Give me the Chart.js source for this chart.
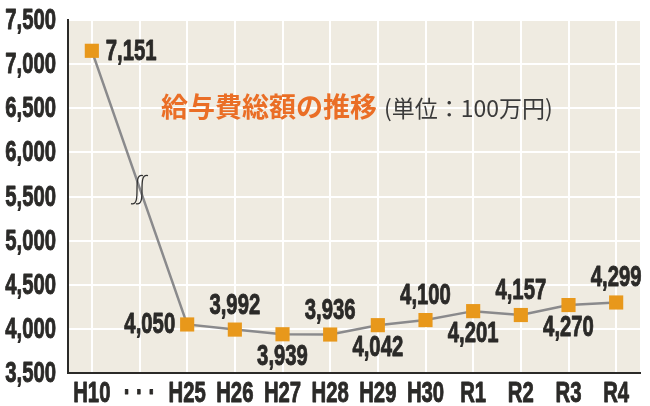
<!DOCTYPE html>
<html>
<head>
<meta charset="utf-8">
<script src="https://cdn.jsdelivr.net/npm/chart.js@4.4.0/dist/chart.umd.min.js"></script>
<style>
  html, body { margin: 0; padding: 0; background: #fff; }
</style>
</head>
<body>
<canvas id="chart" width="650" height="406"></canvas>
<script>
// chart data
const categories = ['H10', '· · ·', 'H25', 'H26', 'H27', 'H28', 'H29', 'H30', 'R1', 'R2', 'R3', 'R4'];
const totals = [7151, null, 4050, 3992, 3939, 3936, 4042, 4100, 4201, 4157, 4270, 4299];
// where each value label sits relative to its point
const labelSides = ['right', null, 'left', 'above', 'below', 'above', 'below', 'above', 'below', 'above', 'below', 'above'];
const yMin = 3500, yMax = 7500, yStep = 500;

const numFont = "bold 29px 'Liberation Sans', Arial, sans-serif";
const squeeze = 0.70; // condensed look
const ink = '#2b2a28';
const fmt = v => v.toLocaleString('en-US');

function narrowText(ctx, text, x, y, align) {
    ctx.save();
    ctx.translate(x, y);
    ctx.scale(squeeze, 1);
    ctx.font = numFont;
    ctx.fillStyle = ink;
    ctx.strokeStyle = ink;
    ctx.lineWidth = 0.9;
    ctx.lineJoin = 'round';
    ctx.textAlign = align;
    ctx.textBaseline = 'middle';
    ctx.fillText(text, 0, 0);
    ctx.strokeText(text, 0, 0);
    ctx.restore();
}

// beige plot background
const plotBackground = {
    id: 'plotBackground',
    beforeDraw(chart) {
        const { ctx, chartArea: a } = chart;
        ctx.save();
        ctx.fillStyle = '#efebe1';
        ctx.fillRect(a.left, a.top, a.right - a.left, a.bottom - a.top);
        ctx.restore();
    }
};

// tick labels, value labels, break mark and title text
const annotations = {
    id: 'annotations',
    afterDatasetsDraw(chart) {
        const { ctx } = chart;
        const pts = chart.getDatasetMeta(0).data;
        const xs = chart.scales.x, ys = chart.scales.y;

        // axis tick labels (condensed)
        ys.ticks.forEach((t, i) => {
            narrowText(ctx, fmt(t.value), xs.left - 12, ys.getPixelForTick(i) + 1, 'right');
        });
        categories.forEach((c, i) => {
            narrowText(ctx, c, xs.getPixelForTick(i), ys.bottom + 21, 'center');
        });

        ctx.save();
        // break mark on the segment that skips the gap category
        const bx = xs.getPixelForValue(1);
        const by = (pts[0].y + pts[2].y) / 2 + 2;
        ctx.strokeStyle = '#333';
        ctx.lineWidth = 1.3;
        [-2.5, 2.5].forEach(dx => {
            const x = bx + dx;
            ctx.beginPath();
            ctx.moveTo(x + 6, by - 14);
            ctx.bezierCurveTo(x - 6, by - 17, x + 6, by + 17, x - 6, by + 14);
            ctx.stroke();
        });
        ctx.restore();

        // value labels
        totals.forEach((v, i) => {
            if (v === null) return;
            const p = pts[i];
            const side = labelSides[i];
            if (side === 'right') {
                narrowText(ctx, fmt(v), p.x + 14, p.y + 1, 'left');
            } else if (side === 'left') {
                narrowText(ctx, fmt(v), p.x - 12, p.y + 1, 'right');
            } else {
                narrowText(ctx, fmt(v), p.x, p.y + (side === 'above' ? -24 : 23), 'center');
            }
        });

        // title
        ctx.save();
        ctx.textAlign = 'left';
        ctx.textBaseline = 'middle';
        ctx.font = "bold 27px 'Noto Sans CJK JP'";
        ctx.fillStyle = '#ea6e26';
        const title = '給与費総額の推移';
        ctx.fillText(title, 161, 107);
        const w = ctx.measureText(title).width;
        ctx.font = "23px 'Noto Sans CJK JP'";
        ctx.fillStyle = '#3a3a3a';
        ctx.fillText('(単位：100万円)', 161 + w + 7, 108);
        ctx.restore();
    }
};

new Chart(document.getElementById('chart'), {
    type: 'line',
    data: {
        labels: categories,
        datasets: [{
            data: totals,
            spanGaps: true,
            borderColor: '#8a8a8c',
            borderWidth: 2.5,
            pointStyle: 'rect',
            pointRadius: 10,
            pointHoverRadius: 10,
            pointBackgroundColor: '#e8981b',
            pointBorderWidth: 0,
            tension: 0
        }]
    },
    options: {
        responsive: false,
        animation: false,
        devicePixelRatio: 1,
        layout: { padding: { top: 20, right: 0, bottom: 0, left: 0 } },
        plugins: { legend: { display: false }, tooltip: { enabled: false } },
        scales: {
            x: {
                offset: true,
                grid: { color: '#ffffff', lineWidth: 2, offset: false, drawTicks: false },
                border: { color: ink, width: 2 },
                ticks: { display: false, autoSkip: false },
                afterFit(s) { s.height = 33; }
            },
            y: {
                min: yMin,
                max: yMax,
                grid: { color: '#ffffff', lineWidth: 2, drawTicks: false },
                border: { color: ink, width: 2 },
                ticks: { display: false, stepSize: yStep },
                afterFit(s) { s.width = 68; }
            }
        }
    },
    plugins: [plotBackground, annotations]
});
</script>
</body>
</html>
